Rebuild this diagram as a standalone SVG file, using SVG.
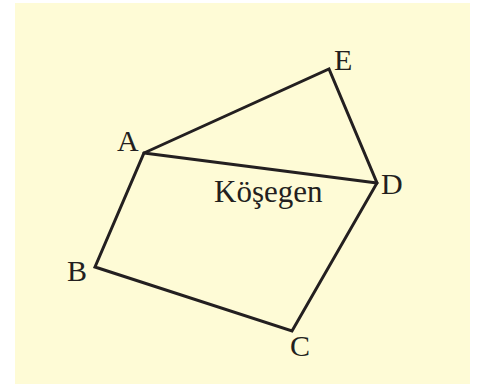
<svg xmlns="http://www.w3.org/2000/svg" width="483" height="384" viewBox="0 0 483 384">
<style>
.lbl{font-family:"Liberation Serif","Times New Roman",serif;font-size:30px;fill:#231f20}
.big{font-size:31px}
.edge{fill:none;stroke:#231f20;stroke-width:3;stroke-linejoin:miter;stroke-linecap:round}
</style>
<rect x="15" y="3" width="455" height="381" fill="#fefbd6"/>
<g id="connectors">
<polygon class="edge" points="144,153 329,69 377,183 292,331 95,267"/>
<line class="edge" x1="144" y1="153" x2="377" y2="183"/>
</g>
<g id="node-A"><text class="lbl" x="117" y="151">A</text></g>
<g id="node-E"><text class="lbl" x="334" y="70">E</text></g>
<g id="node-D"><text class="lbl" x="381" y="194">D</text></g>
<g id="node-C"><text class="lbl" x="290" y="356">C</text></g>
<g id="node-B"><text class="lbl" x="67" y="281">B</text></g>
<g id="label-kosegen"><text class="lbl big" x="214" y="202">Köşegen</text></g>
</svg>
